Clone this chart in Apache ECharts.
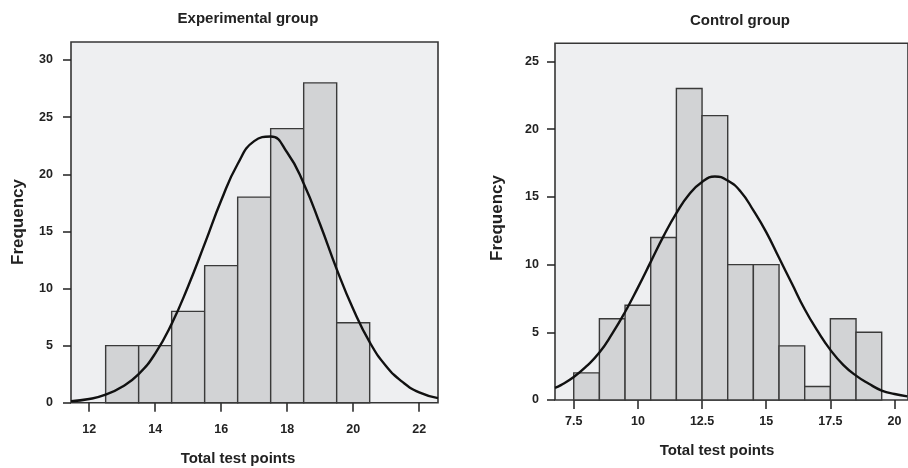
<!DOCTYPE html>
<html>
<head>
<meta charset="utf-8">
<script src="https://cdn.jsdelivr.net/npm/echarts@6/dist/echarts.min.js"></script>
<style>
  html, body { margin: 0; padding: 0; background: #fff; }
  #chart { width: 908px; height: 468px; }
</style>
</head>
<body>
<div id="chart"></div>
<script>
// histogram bins (bin centres) and counts
const expBins = [13, 14, 15, 16, 17, 18, 19, 20];
const expCounts = [5, 5, 8, 12, 18, 24, 28, 7];
const ctrlBins = [8, 9, 10, 11, 12, 13, 14, 15, 16, 17, 18, 19];
const ctrlCounts = [2, 6, 7, 12, 23, 21, 10, 10, 4, 1, 6, 5];

// normal curves, points
const expCurveX = [11.45, 12, 12.5, 13, 13.5, 14, 14.5, 15, 15.5, 16, 16.5, 17, 17.5, 18, 18.5, 19, 19.5, 20, 20.5, 21, 21.5, 22, 22.57];
const expCurveY = [0.13, 0.32, 0.7, 1.4, 2.5, 4.3, 6.9, 10.2, 13.9, 17.7, 20.9, 22.9, 23.3, 21.9, 19.2, 15.6, 11.7, 8.2, 5.3, 3.2, 1.8, 0.9, 0.4];
const ctrlCurveX = [6.77, 7, 7.5, 8, 8.5, 9, 9.5, 10, 10.5, 11, 11.5, 12, 12.5, 13, 13.5, 14, 14.5, 15, 15.5, 16, 16.5, 17, 17.5, 18, 18.5, 19, 19.5, 20, 20.5];
const ctrlCurveY = [0.9, 1.1, 1.7, 2.5, 3.5, 4.9, 6.5, 8.3, 10.2, 12.1, 13.8, 15.2, 16.1, 16.5, 16.2, 15.4, 14.0, 12.4, 10.5, 8.6, 6.7, 5.1, 3.7, 2.6, 1.8, 1.2, 0.7, 0.44, 0.27];

// tick labels
const expXTicks = [12, 14, 16, 18, 20, 22];
const expYTicks = [0, 5, 10, 15, 20, 25, 30];
const ctrlXTicks = [7.5, 10, 12.5, 15, 17.5, 20];
const ctrlYTicks = [0, 5, 10, 15, 20, 25];

const binWidth = 1;
const font = 'Liberation Sans, Arial, sans-serif';
const ink = '#222';

function pairs(xs, ys) {
  return xs.map((x, i) => [x, ys[i]]);
}

function renderBar(params, api) {
  const x = api.value(0);
  const y = api.value(1);
  const p0 = api.coord([x - binWidth / 2, y]);
  const p1 = api.coord([x + binWidth / 2, 0]);
  return {
    type: 'rect',
    shape: { x: p0[0], y: p0[1], width: p1[0] - p0[0], height: p1[1] - p0[1] },
    style: { fill: '#d2d3d5', stroke: '#3a3a3a', lineWidth: 1.4 }
  };
}

function xAxis(idx, min, max, ticks, margin) {
  return {
    type: 'value', gridIndex: idx, min: min, max: max,
    axisLine: { show: false },
    splitLine: { show: false },
    axisTick: { show: true, length: 9, customValues: ticks, lineStyle: { color: ink, width: 1.5 } },
    axisLabel: { customValues: ticks, margin: margin, color: ink, fontFamily: font, fontWeight: 'bold', fontSize: 12.5 }
  };
}

function yAxis(idx, max, ticks, margin) {
  return {
    type: 'value', gridIndex: idx, min: 0, max: max,
    axisLine: { show: false },
    splitLine: { show: false },
    axisTick: { show: true, length: 8, customValues: ticks, lineStyle: { color: ink, width: 1.5 } },
    axisLabel: { customValues: ticks, margin: margin, color: ink, fontFamily: font, fontWeight: 'bold', fontSize: 12.5 }
  };
}

function label(text, x, y, size, rotate) {
  return {
    type: 'text', x: x, y: y, rotation: rotate ? Math.PI / 2 : 0,
    style: {
      text: text, fill: ink, font: 'bold ' + size + 'px ' + font,
      textAlign: 'center', textVerticalAlign: 'middle'
    }
  };
}

const chart = echarts.init(document.getElementById('chart'));
chart.setOption({
  animation: false,
  backgroundColor: '#fff',
  grid: [
    { left: 71, top: 42, width: 367, height: 360.7, show: true, backgroundColor: '#eeeff1', borderColor: '#363636', borderWidth: 1.6 },
    { left: 555, top: 43.3, width: 359, height: 356.7, show: true, backgroundColor: '#eeeff1', borderColor: '#363636', borderWidth: 1.6 }
  ],
  xAxis: [
    xAxis(0, 11.45, 22.57, expXTicks, 20),
    xAxis(1, 6.77, 20.525, ctrlXTicks, 15)
  ],
  yAxis: [
    yAxis(0, 31.58, expYTicks, 18),
    yAxis(1, 26.34, ctrlYTicks, 16)
  ],
  graphic: [
    label('Experimental group', 248, 19, 15),
    label('Control group', 740, 21, 15),
    label('Total test points', 238, 459, 15),
    label('Total test points', 717, 451, 15),
    label('Frequency', 18, 222, 17, true),
    label('Frequency', 497, 218, 17, true)
  ],
  series: [
    {
      type: 'custom', xAxisIndex: 0, yAxisIndex: 0,
      renderItem: renderBar, encode: { x: 0, y: 1 },
      data: pairs(expBins, expCounts)
    },
    {
      type: 'line', xAxisIndex: 0, yAxisIndex: 0, smooth: true, symbol: 'none',
      lineStyle: { color: '#111', width: 2.4 },
      data: pairs(expCurveX, expCurveY)
    },
    {
      type: 'custom', xAxisIndex: 1, yAxisIndex: 1,
      renderItem: renderBar, encode: { x: 0, y: 1 },
      data: pairs(ctrlBins, ctrlCounts)
    },
    {
      type: 'line', xAxisIndex: 1, yAxisIndex: 1, smooth: true, symbol: 'none',
      lineStyle: { color: '#111', width: 2.4 },
      data: pairs(ctrlCurveX, ctrlCurveY)
    }
  ]
});
</script>
</body>
</html>
